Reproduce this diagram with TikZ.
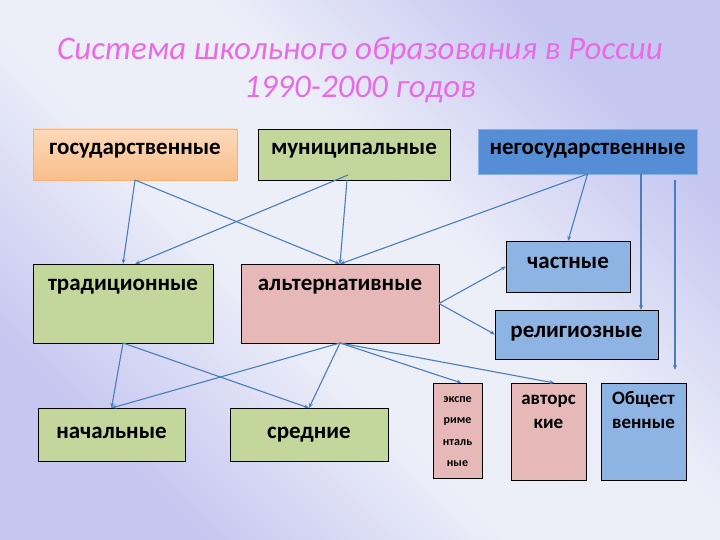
\documentclass[tikz,border=0pt]{standalone}
\usepackage{fontspec}
\setmainfont{Carlito}
\usetikzlibrary{arrows.meta}
\definecolor{grn}{HTML}{C3D69B}
\definecolor{pnk}{HTML}{E6B9B8}
\definecolor{lblu}{HTML}{8EB4E3}
\definecolor{dblu}{HTML}{558ED5}
\definecolor{orgtop}{HTML}{FCD9BA}
\definecolor{orgbot}{HTML}{F9BE8C}
\definecolor{conncol}{HTML}{4A7EBB}
\definecolor{ttlcol}{HTML}{E86CE6}
\definecolor{bgdark}{HTML}{C6C7F1}
\definecolor{bglight}{HTML}{ECEEF8}
\pgfdeclareverticalshading{slidebg}{100bp}{color(0bp)=(bgdark); color(26bp)=(bgdark); color(43bp)=(bglight); color(57bp)=(bglight); color(74bp)=(bgdark); color(100bp)=(bgdark)}
\tikzset{
	box/.style={draw=black,line width=0.8pt,inner sep=0,outer sep=0},
	boxtext/.style={font=\fontsize{23}{26}\selectfont\bfseries,anchor=base,align=center,inner sep=0},
	conn/.style={draw=conncol,line width=1.1pt,-{Stealth[length=5pt,width=4pt]}}
}
\begin{document}
\begin{tikzpicture}[x=1pt,y=-1pt]
	\useasboundingbox (0,0) rectangle (720,540);
	\shade[shading=slidebg,shading angle=-45] (0,0) rectangle (720,540);
	\node[font=\fontsize{33}{38}\selectfont\itshape,text=ttlcol,align=center] (title) at (360,70) {Система школьного образования в России\\1990-2000 годов};
	\node[box,draw=orgbot!80!orange,top color=orgtop,bottom color=orgbot,minimum width=204pt,minimum height=51pt,label={[boxtext,yshift=-26pt]north:государственные}] (gos) at (135,154.5) {};
	\node[box,fill=grn,minimum width=192pt,minimum height=51pt,label={[boxtext,yshift=-26pt]north:муниципальные}] (mun) at (354,154.5) {};
	\node[box,draw=dblu!70!white,fill=dblu,minimum width=219pt,minimum height=45pt,label={[boxtext,yshift=-26pt]north:негосударственные}] (neg) at (587.5,151.5) {};
	\node[box,fill=grn,minimum width=180pt,minimum height=79pt,label={[boxtext,yshift=-26pt]north:традиционные}] (trad) at (123,303.5) {};
	\node[box,fill=pnk,minimum width=198pt,minimum height=79pt,label={[boxtext,yshift=-26pt]north:альтернативные}] (alt) at (340,303.5) {};
	\node[box,fill=lblu,minimum width=124pt,minimum height=51pt,label={[boxtext,yshift=-27pt]north:частные}] (chas) at (568,266.5) {};
	\node[box,fill=lblu,minimum width=163pt,minimum height=49pt,label={[boxtext,yshift=-27pt]north:религиозные}] (relig) at (576.5,334.5) {};
	\node[box,fill=grn,minimum width=147pt,minimum height=53pt,label={[boxtext,yshift=-30pt]north:начальные}] (nach) at (111.5,434.5) {};
	\node[box,fill=grn,minimum width=158pt,minimum height=53pt,label={[boxtext,yshift=-30pt]north:средние}] (sred) at (309,434.5) {};
	\node[box,fill=pnk,minimum width=49pt,minimum height=95pt,label={[boxtext,yshift=-83.5pt,font=\fontsize{12}{21.5}\selectfont\bfseries]north:экспе\\риме\\нталь\\ные}] (eksp) at (457.5,430.5) {};
	\node[box,fill=pnk,minimum width=75pt,minimum height=97pt,label={[boxtext,yshift=-45pt,font=\fontsize{19}{24}\selectfont\bfseries]north:авторс\\кие}] (avt) at (548.5,431.5) {};
	\node[box,fill=lblu,minimum width=85pt,minimum height=97pt,label={[boxtext,yshift=-45pt,font=\fontsize{19}{24}\selectfont\bfseries]north:Общест\\венные}] (obsh) at (643.5,431.5) {};
	\draw[conn] (gos.south) -- (trad.north);
	\draw[conn] (gos.south) -- (alt.north);
	\draw[conn] ([xshift=-6pt,yshift=5pt]mun.south) -- ([xshift=12pt]trad.north);
	\draw[conn] ([xshift=-7pt]mun.south) -- (alt.north);
	\draw[conn] (neg.south) -- (alt.north);
	\draw[conn] (neg.south) -- (chas.north);
	\draw[conn] ([xshift=53.5pt]neg.south) -- ([xshift=53.5pt]neg.south |- relig.north);
	\draw[conn,shorten >=13pt] ([xshift=87.5pt,yshift=-6pt]neg.south) -- ([xshift=87.5pt]neg.south |- obsh.north);
	\draw[conn] (alt.east) -- (chas.west);
	\draw[conn] (alt.east) -- (relig.west);
	\draw[conn] (trad.south) -- (nach.north);
	\draw[conn] (trad.south) -- (sred.north);
	\draw[conn] (alt.south) -- (nach.north);
	\draw[conn] (alt.south) -- (sred.north);
	\draw[conn] (alt.south) -- ([xshift=4pt]eksp.north);
	\draw[conn] (alt.south) -- ([xshift=6pt]avt.north);
\end{tikzpicture}
\end{document}
